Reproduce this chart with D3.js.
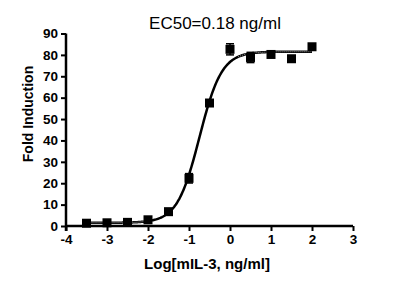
<!DOCTYPE html>
<html><head><meta charset="utf-8">
<script src="https://cdn.jsdelivr.net/npm/d3@7"></script>
<style>body{margin:0;background:#fff}svg{display:block}</style>
</head><body>
<svg id="chart" width="396" height="288"></svg>
<script>
const logDose = [-3.5, -3, -2.5, -2, -1.5, -1, -0.5, 0, 0.5, 1, 1.5, 2];
const foldInduction = [1.3, 1.5, 1.7, 2.9, 6.7, 22.3, 57.5, 82.6, 78.8, 80.2, 78.2, 83.8];
const errorSD = [0.5, 0.5, 0.5, 0.6, 0.8, 2.2, 1.2, 2.6, 2.4, 0.8, 0.6, 0.5];
// four-parameter logistic fit reported for the curve
const fitBottom = 1.5, fitTop = 81.5, fitLogEC50 = Math.log10(0.18), fitHill = 1.6;
const xTicks = [-4, -3, -2, -1, 0, 1, 2, 3];
const yTicks = [0, 10, 20, 30, 40, 50, 60, 70, 80, 90];
const titleText = "EC50=0.18 ng/ml";
const xLabel = "Log[mIL-3, ng/ml]";
const yLabel = "Fold Induction";

const svg = d3.select("#chart");
const x = d3.scaleLinear().domain([-4, 3]).range([66, 353]);
const y = d3.scaleLinear().domain([0, 90]).range([226, 33.5]);
const font = "Arial, 'Liberation Sans', Helvetica, sans-serif";

const xAxis = svg.append("g").attr("transform", "translate(0,226)")
  .call(d3.axisBottom(x).tickValues(xTicks).tickSize(5).tickPadding(3).tickFormat(d => String(d)));
const yAxis = svg.append("g").attr("transform", "translate(66,0)")
  .call(d3.axisLeft(y).tickValues(yTicks).tickSize(5).tickPadding(3).tickFormat(d => String(d)));
[xAxis, yAxis].forEach(g => {
  g.select(".domain").attr("stroke", "#000").attr("stroke-width", 2.5);
  g.selectAll(".tick line").attr("stroke", "#000").attr("stroke-width", 2);
  g.selectAll(".tick text").attr("fill", "#000").style("font-family", font)
    .style("font-size", "13.5px").style("font-weight", "bold");
});
xAxis.select(".domain").attr("d", `M${x(-4)},0H${x(3)}`);
yAxis.select(".domain").attr("d", `M0,${y(90)}V${y(0) + 5}`);

// fitted curve
const fit = v => fitBottom + (fitTop - fitBottom) / (1 + Math.pow(10, (fitLogEC50 - v) * fitHill));
const curveX = d3.range(logDose[0], logDose[logDose.length - 1] + 0.0001, 0.02);
const line = d3.line().x(d => x(d)).y(d => y(fit(d)));
svg.append("path").datum(curveX).attr("d", line)
  .attr("fill", "none").attr("stroke", "#000").attr("stroke-width", 2.5);
// light hatching seen along the flat parts of the fit
[curveX.filter(d => d <= -2), curveX.filter(d => d >= 0.2)].forEach(seg => {
  svg.append("path").datum(seg).attr("d", line).attr("fill", "none")
    .attr("stroke", "#aaa").attr("stroke-width", 1).attr("stroke-dasharray", "1,1");
});

// error bars
const pts = logDose.map((d, i) => ({x: d, y: foldInduction[i], e: errorSD[i]}));
const eb = svg.append("g").attr("stroke", "#000").attr("stroke-width", 1.5);
pts.forEach(p => {
  eb.append("line").attr("x1", x(p.x)).attr("x2", x(p.x)).attr("y1", y(p.y + p.e)).attr("y2", y(p.y - p.e));
  [p.y + p.e, p.y - p.e].forEach(v => eb.append("line")
    .attr("x1", x(p.x) - 4).attr("x2", x(p.x) + 4).attr("y1", y(v)).attr("y2", y(v)));
});
// markers
svg.append("g").selectAll("rect").data(pts).join("rect")
  .attr("x", d => x(d.x) - 4.5).attr("y", d => y(d.y) - 4.5)
  .attr("width", 9).attr("height", 9).attr("fill", "#000");

svg.append("text").attr("x", 215).attr("y", 29).attr("text-anchor", "middle")
  .style("font-family", font).style("font-size", "17px").text(titleText);
svg.append("text").attr("x", 207).attr("y", 269).attr("text-anchor", "middle")
  .style("font-family", font).style("font-size", "15px").style("font-weight", "bold").text(xLabel);
svg.append("text").attr("transform", "translate(33,114) rotate(-90)").attr("text-anchor", "middle")
  .style("font-family", font).style("font-size", "14px").style("font-weight", "bold").text(yLabel);
</script>
</body></html>
